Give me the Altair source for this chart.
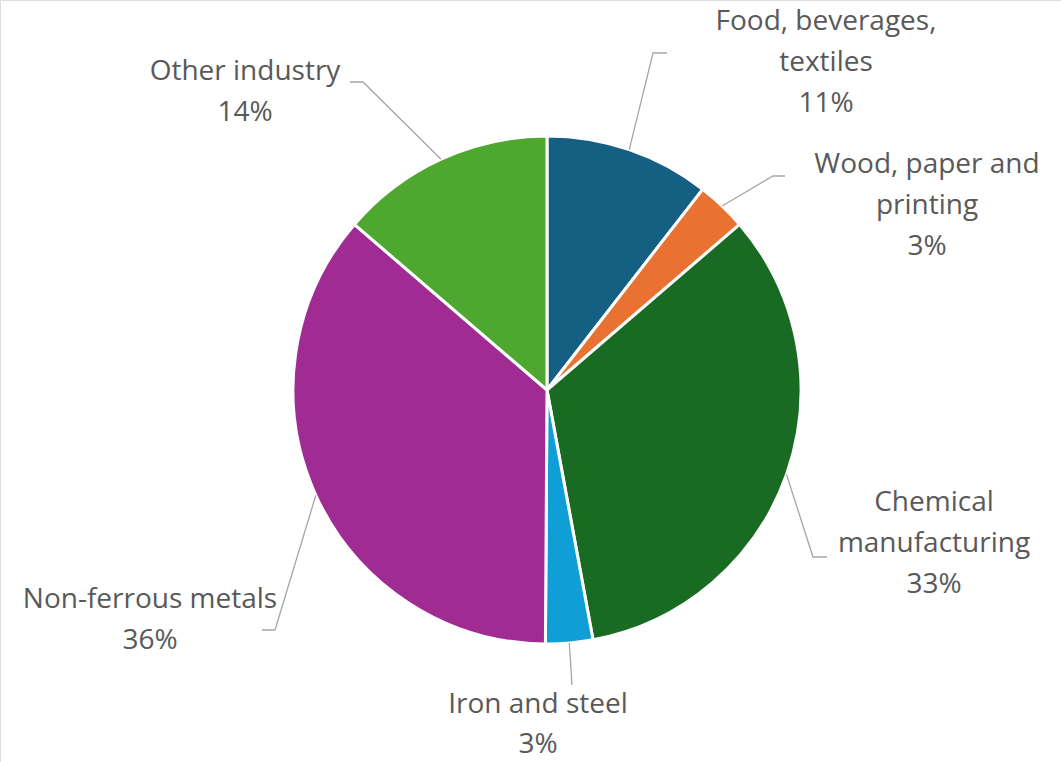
import math
import altair as alt
import pandas as pd

# ---- data ----
categories = [
    "Food, beverages, textiles",
    "Wood, paper and printing",
    "Chemical manufacturing",
    "Iron and steel",
    "Non-ferrous metals",
    "Other industry",
]
label_lines = [
    ["Food, beverages,", "textiles"],
    ["Wood, paper and", "printing"],
    ["Chemical", "manufacturing"],
    ["Iron and steel"],
    ["Non-ferrous metals"],
    ["Other industry"],
]
shares = [10.5, 3.2, 33.4, 3.0, 36.2, 13.7]
pct_labels = ["11%", "3%", "33%", "3%", "36%", "14%"]

# ---- styling / layout ----
colors = ["#156082", "#E97132", "#196B24", "#0F9ED5", "#A02B93", "#4EA72E"]
W, H = 1061, 762
CX, CY, R = 547, 390, 254
LINE_H = 41
FONT = "Open Sans"
FONT_SIZE = 28
TEXT_COLOR = "#595959"
LEADER_COLOR = "#a6a6a6"
# label block anchor (centre x, first-line centre y)
label_pos = [(826, 22), (927, 165), (934, 503), (538, 705), (150, 600), (245, 72)]
# leader line bend point and end point
leader_bends = [
    ((653, 53), (667, 53)),
    ((773, 176), (785, 176)),
    ((813, 557), (827, 557)),
    ((572, 685), (572, 685)),
    ((275, 630), (262, 630)),
    ((363, 82), (350, 82)),
]

# ---- build tables ----
total = sum(shares)
arc_df = pd.DataFrame({"category": categories, "share": shares, "idx": list(range(len(shares)))})

leader_rows = []
text_rows = []
cum = 0.0
for i, (cat, s) in enumerate(zip(categories, shares)):
    mid = (cum + s / 2) / total * 2 * math.pi
    cum += s
    sx = CX + R * math.sin(mid)
    sy = CY - R * math.cos(mid)
    (bx, by), (ex, ey) = leader_bends[i]
    for k, (px, py) in enumerate([(sx, sy), (bx, by), (ex, ey)]):
        leader_rows.append({"category": cat, "seq": k, "px": px, "py": py})
    lx, ly = label_pos[i]
    lines = label_lines[i] + [pct_labels[i]]
    step = 40 if i == 3 else LINE_H
    for j, t in enumerate(lines):
        text_rows.append({"txt": t, "px": lx, "py": ly + j * step})

leader_df = pd.DataFrame(leader_rows)
text_df = pd.DataFrame(text_rows)

xs = alt.Scale(domain=[0, W], range=[0, W])
ys = alt.Scale(domain=[0, H], range=[0, H])

pie = alt.Chart(arc_df).mark_arc(outerRadius=R, stroke="white", strokeWidth=3).encode(
    theta=alt.Theta("share:Q", stack=True),
    color=alt.Color("category:N", scale=alt.Scale(domain=categories, range=colors), legend=None),
    order=alt.Order("idx:Q"),
    x=alt.value(CX),
    y=alt.value(CY),
)

leaders = alt.Chart(leader_df).mark_line(color=LEADER_COLOR, strokeWidth=1.3).encode(
    x=alt.X("px:Q", scale=xs, axis=None),
    y=alt.Y("py:Q", scale=ys, axis=None),
    detail="category:N",
    order="seq:Q",
)

labels = alt.Chart(text_df).mark_text(
    font=FONT, fontSize=FONT_SIZE, color=TEXT_COLOR, align="center", baseline="middle"
).encode(
    x=alt.X("px:Q", scale=xs, axis=None),
    y=alt.Y("py:Q", scale=ys, axis=None),
    text="txt:N",
)

chart = alt.layer(pie, leaders, labels).resolve_scale(theta="independent").properties(
    width=W, height=H, padding=0, autosize=alt.AutoSizeParams(type="none")
).configure_view(stroke=None).configure(background="white")

chart.save("out.html", embed_options={"renderer": "svg", "actions": False})
